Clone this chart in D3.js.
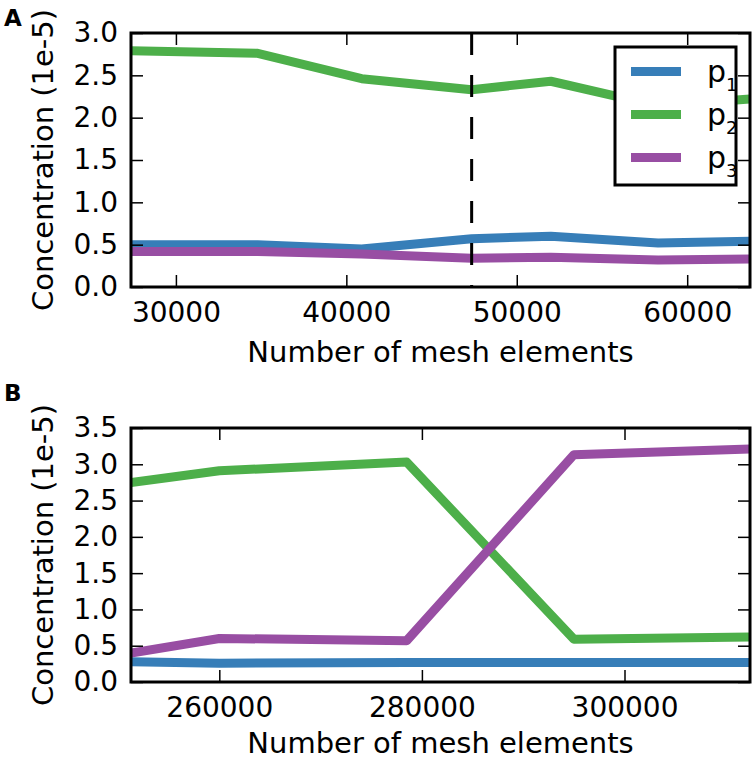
<!DOCTYPE html>
<html>
<head>
<meta charset="utf-8">
<script src="https://cdn.jsdelivr.net/npm/d3@7"></script>
<style>
  html, body { margin: 0; padding: 0; background: #fff; }
  svg { display: block; }
  text { font-family: "DejaVu Sans", sans-serif; fill: #000; }
</style>
</head>
<body>
<svg id="chart" width="756" height="760"></svg>
<script>
// ---------- data ----------
const seriesNames = ["p1", "p2", "p3"];
const seriesColors = ["#377eb8", "#4daf4a", "#984ea3"];

const topMesh = [27365, 34800, 40900, 47353, 52000, 58290, 63685];
const topP1 = [0.50, 0.50, 0.45, 0.57, 0.60, 0.52, 0.54];
const topP2 = [2.79, 2.76, 2.46, 2.33, 2.43, 2.14, 2.22];
const topP3 = [0.42, 0.42, 0.39, 0.34, 0.35, 0.32, 0.33];
const topDashed = 47353;
const topXTicks = [30000, 40000, 50000, 60000];
const topYTicks = [0.0, 0.5, 1.0, 1.5, 2.0, 2.5, 3.0];

const botMesh = [251283, 260000, 278500, 295000, 312389];
const botP1 = [0.28, 0.26, 0.27, 0.27, 0.27];
const botP2 = [2.75, 2.91, 3.03, 0.59, 0.62];
const botP3 = [0.40, 0.60, 0.57, 3.13, 3.21];
const botXTicks = [260000, 280000, 300000];
const botYTicks = [0.0, 0.5, 1.0, 1.5, 2.0, 2.5, 3.0, 3.5];

const xLabel = "Number of mesh elements";
const yLabel = "Concentration (1e-5)";

// ---------- drawing ----------
const svg = d3.select("#chart");
const FS = 28;
const LFS = 29;

function panel(opts) {
  const {left, right, top, bottom, xs, ys, ydom, xticks, yticks, letter, id, dashed, legend, xlabY} = opts;
  const x = d3.scaleLinear().domain(d3.extent(xs)).range([left, right]);
  const y = d3.scaleLinear().domain(ydom).range([bottom, top]);
  const g = svg.append("g");

  g.append("clipPath").attr("id", id).append("rect")
    .attr("x", left).attr("y", top).attr("width", right - left).attr("height", bottom - top);

  const line = d3.line().x((d, i) => x(xs[i])).y(d => y(d));
  const plot = g.append("g").attr("clip-path", `url(#${id})`);
  ys.forEach((vals, k) => {
    plot.append("path").datum(vals)
      .attr("d", line)
      .attr("fill", "none")
      .attr("stroke", seriesColors[k])
      .attr("stroke-width", 9)
      .attr("stroke-linejoin", "round")
      .attr("stroke-linecap", "butt");
  });

  if (dashed !== undefined) {
    plot.append("line")
      .attr("x1", x(dashed)).attr("x2", x(dashed))
      .attr("y1", top).attr("y2", bottom)
      .attr("stroke", "#000").attr("stroke-width", 3)
      .attr("stroke-dasharray", "22,20");
  }

  // axes with inward ticks
  const tickLen = 12;
  const xAxisB = d3.axisBottom(x).tickValues(xticks).tickFormat(d3.format("d"))
    .tickSizeInner(-tickLen).tickSizeOuter(0).tickPadding(15);
  const xAxisT = d3.axisTop(x).tickValues(xticks).tickFormat("")
    .tickSizeInner(-tickLen).tickSizeOuter(0);
  const yAxisL = d3.axisLeft(y).tickValues(yticks).tickFormat(d3.format(".1f"))
    .tickSizeInner(-tickLen).tickSizeOuter(0).tickPadding(13);
  const yAxisR = d3.axisRight(y).tickValues(yticks).tickFormat("")
    .tickSizeInner(-tickLen).tickSizeOuter(0);

  const axes = [
    g.append("g").attr("transform", `translate(0,${bottom})`).call(xAxisB),
    g.append("g").attr("transform", `translate(0,${top})`).call(xAxisT),
    g.append("g").attr("transform", `translate(${left},0)`).call(yAxisL),
    g.append("g").attr("transform", `translate(${right},0)`).call(yAxisR)
  ];
  axes.forEach(a => {
    a.select(".domain").remove();
    a.selectAll(".tick line").attr("stroke", "#000").attr("stroke-width", 1.5);
    a.selectAll(".tick text").attr("font-family", "DejaVu Sans").attr("font-size", FS).attr("fill", "#000");
  });

  if (legend) {
    const lx = legend.x, ly = legend.y, lw = legend.w, lh = legend.h;
    const lg = g.append("g");
    lg.append("rect").attr("x", lx).attr("y", ly).attr("width", lw).attr("height", lh)
      .attr("fill", "#fff").attr("stroke", "#000").attr("stroke-width", 3);
    seriesNames.forEach((name, k) => {
      const cy = ly + 24.5 + k * 43;
      lg.append("line").attr("x1", lx + 16).attr("x2", lx + 66)
        .attr("y1", cy).attr("y2", cy)
        .attr("stroke", seriesColors[k]).attr("stroke-width", 9);
      const t = lg.append("text").attr("x", lx + 92).attr("y", cy + 10)
        .attr("font-family", "Liberation Sans").attr("font-size", 30);
      t.append("tspan").text(name.charAt(0));
      t.append("tspan").attr("font-size", 18).attr("dy", 9).text(name.slice(1));
    });
  }

  // frame
  g.append("rect").attr("x", left).attr("y", top).attr("width", right - left).attr("height", bottom - top)
    .attr("fill", "none").attr("stroke", "#000").attr("stroke-width", 3);

  // axis labels
  g.append("text").attr("x", (left + right) / 2).attr("y", xlabY)
    .attr("text-anchor", "middle").attr("font-size", LFS).text(xLabel);
  g.append("text")
    .attr("transform", `translate(53,${(top + bottom) / 2}) rotate(-90)`)
    .attr("text-anchor", "middle").attr("font-size", LFS).text(yLabel);

  // panel letter
  g.append("text").attr("x", 4).attr("y", letter.y)
    .attr("font-family", "Liberation Sans").attr("font-weight", "bold").attr("font-size", 23)
    .text(letter.t);
}

panel({
  id: "clipA", left: 131, right: 750, top: 33, bottom: 287,
  xs: topMesh, ys: [topP1, topP2, topP3], ydom: [0, 3.0],
  xticks: topXTicks, yticks: topYTicks, letter: {t: "A", y: 26},
  dashed: topDashed, xlabY: 362,
  legend: {x: 615, y: 47, w: 121, h: 138}
});

panel({
  id: "clipB", left: 131, right: 750, top: 428, bottom: 682,
  xs: botMesh, ys: [botP1, botP2, botP3], ydom: [0, 3.5],
  xticks: botXTicks, yticks: botYTicks, letter: {t: "B", y: 401},
  xlabY: 753
});
</script>
</body>
</html>
